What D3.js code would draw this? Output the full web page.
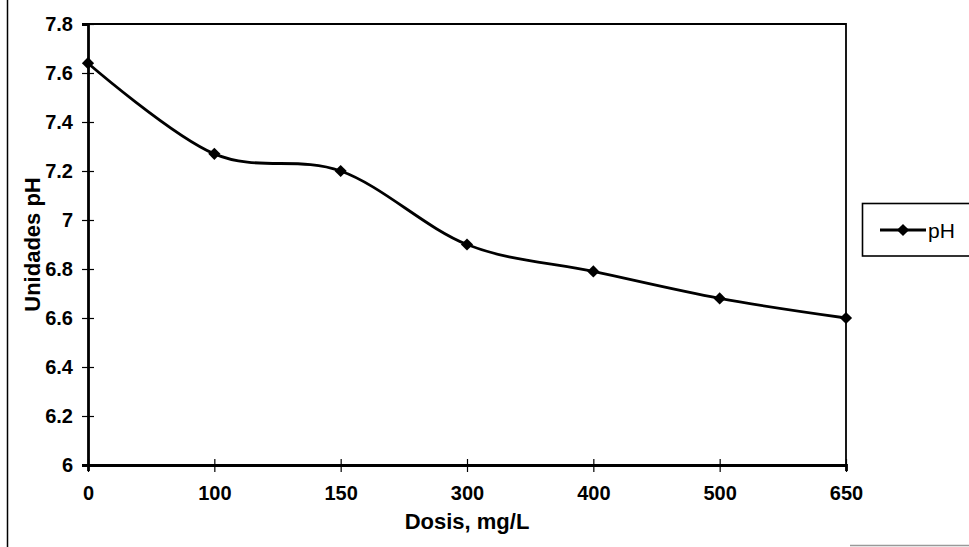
<!DOCTYPE html>
<html>
<head>
<meta charset="utf-8">
<script src="https://cdn.jsdelivr.net/npm/d3@7"></script>
<style>
  html, body { margin: 0; padding: 0; background: #fff; }
  svg { display: block; }
  text { font-family: "Liberation Sans", Arial, sans-serif; fill: #000; }
</style>
</head>
<body>
<svg id="chart" width="969" height="547"></svg>
<script>
// Dosis (mg/L) categories and measured pH
const dosis = ["0", "100", "150", "300", "400", "500", "650"];
const phValues = [7.64, 7.27, 7.2, 6.9, 6.79, 6.68, 6.6];

// Y axis ticks
const yTickValues = [6, 6.2, 6.4, 6.6, 6.8, 7, 7.2, 7.4, 7.6, 7.8];
const yTickLabels = ["6", "6.2", "6.4", "6.6", "6.8", "7", "7.2", "7.4", "7.6", "7.8"];

const seriesName = "pH";
const xTitle = "Dosis, mg/L";
const yTitle = "Unidades pH";

const svg = d3.select("#chart");
const plot = { left: 88, right: 846, top: 24, bottom: 465 };

const x = d3.scalePoint().domain(dosis).range([plot.left, plot.right]);
const y = d3.scaleLinear().domain([6, 7.8]).range([plot.bottom, plot.top]);

// outer frame fragments
svg.append("line").attr("x1", 7.5).attr("x2", 7.5).attr("y1", 0).attr("y2", 547)
  .attr("stroke", "#000").attr("stroke-width", 1.5);
svg.append("line").attr("x1", 850).attr("x2", 969).attr("y1", 545.5).attr("y2", 545.5)
  .attr("stroke", "#999").attr("stroke-width", 1.5);

// plot area frame (top and right)
svg.append("path")
  .attr("d", `M${plot.left},${plot.top}H${plot.right}V${plot.bottom}`)
  .attr("fill", "none").attr("stroke", "#000").attr("stroke-width", 1.8);

// y axis
const yAxis = d3.axisLeft(y)
  .tickValues(yTickValues)
  .tickFormat((d, i) => yTickLabels[i])
  .tickSize(6).tickPadding(9);
const gy = svg.append("g").attr("transform", `translate(${plot.left},0)`).call(yAxis);
gy.select(".domain").attr("stroke", "#000").attr("stroke-width", 2.8);
gy.selectAll(".tick line").attr("x1", -6).attr("x2", 6).attr("stroke", "#000").attr("stroke-width", 1.2);
gy.selectAll(".tick text").style("font-size", "20px").style("font-weight", "bold")
  .style("font-family", "Liberation Sans, Arial, sans-serif");

// x axis
const xAxis = d3.axisBottom(x).tickSize(6).tickPadding(15);
const gx = svg.append("g").attr("transform", `translate(0,${plot.bottom})`).call(xAxis);
gx.select(".domain").attr("stroke", "#000").attr("stroke-width", 2.8);
gx.selectAll(".tick line").attr("y1", -6).attr("y2", 7).attr("stroke", "#000").attr("stroke-width", 1.2);
gx.selectAll(".tick text").style("font-size", "20px").style("font-weight", "bold")
  .style("font-family", "Liberation Sans, Arial, sans-serif");

// axis titles
svg.append("text")
  .attr("x", (plot.left + plot.right) / 2).attr("y", 529)
  .attr("text-anchor", "middle")
  .style("font-size", "22px").style("font-weight", "bold")
  .text(xTitle);

svg.append("text")
  .attr("transform", `translate(40,${(plot.top + plot.bottom) / 2}) rotate(-90)`)
  .attr("text-anchor", "middle")
  .style("font-size", "22px").style("font-weight", "bold")
  .text(yTitle);

// smoothed series line
const line = d3.line()
  .x((d, i) => x(dosis[i]))
  .y(d => y(d))
  .curve(d3.curveCardinal.tension(0));

svg.append("path")
  .datum(phValues)
  .attr("d", line)
  .attr("fill", "none").attr("stroke", "#000").attr("stroke-width", 2.8);

// diamond markers
const diamond = d3.symbol().type(d3.symbolDiamond2).size(95);
svg.selectAll(".marker")
  .data(phValues)
  .join("path")
  .attr("class", "marker")
  .attr("transform", (d, i) => `translate(${x(dosis[i])},${y(d)})`)
  .attr("d", diamond)
  .attr("fill", "#000");

// legend
const lg = svg.append("g");
lg.append("rect").attr("x", 862.5).attr("y", 203.5).attr("width", 110).attr("height", 52.5)
  .attr("fill", "#fff").attr("stroke", "#000").attr("stroke-width", 1.6);
lg.append("line").attr("x1", 880).attr("x2", 926).attr("y1", 230).attr("y2", 230)
  .attr("stroke", "#000").attr("stroke-width", 2.8);
lg.append("path").attr("transform", "translate(903,230)").attr("d", diamond).attr("fill", "#000");
lg.append("text").attr("x", 928).attr("y", 238)
  .style("font-size", "21px")
  .text(seriesName);
</script>
</body>
</html>
